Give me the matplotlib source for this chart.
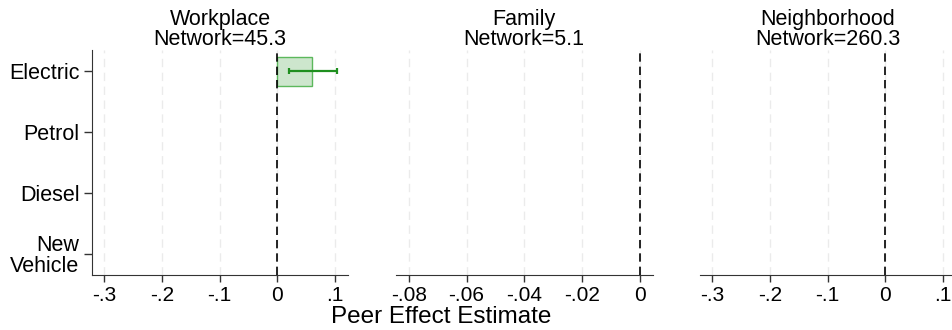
import numpy as np
import matplotlib
matplotlib.use("Agg")
import matplotlib.pyplot as plt

plt.rcParams['font.family'] = ['Liberation Sans', 'DejaVu Sans']

# categorias (de cima para baixo)
categories = ['Electric', 'Petrol', 'Diesel', 'New\nVehicle']

# estimativas por rede
panel_titles = ['Workplace\nNetwork=45.3', 'Family\nNetwork=5.1', 'Neighborhood\nNetwork=260.3']
work_est = [0.06, 0.0, 0.0, 0.0]
work_lo = [0.02, np.nan, np.nan, np.nan]
work_hi = [0.103, np.nan, np.nan, np.nan]
family_est = [0.0, 0.0, 0.0, 0.0]
neigh_est = [0.0, 0.0, 0.0, 0.0]

# ticks do eixo x
ticks_wide = [-0.3, -0.2, -0.1, 0.0, 0.1]
ticklabels_wide = ['-.3', '-.2', '-.1', '0', '.1']
ticks_family = [-0.08, -0.06, -0.04, -0.02, 0.0]
ticklabels_family = ['-.08', '-.06', '-.04', '-.02', '0']

fig = plt.figure(figsize=(9.53, 3.30), dpi=100)
positions = [
    [92/953, 55/330, 256/953, 225/330],
    [395.7/953, 55/330, 257/953, 225/330],
    [700/953, 55/330, 256/953, 225/330],
]
xlims = [(-0.3208, 0.1225), (-0.0845, 0.0044), (-0.321, 0.1225)]
ests = [work_est, family_est, neigh_est]
tick_sets = [(ticks_wide, ticklabels_wide), (ticks_family, ticklabels_family),
             (ticks_wide, ticklabels_wide)]

y = np.arange(len(categories))

for i, pos in enumerate(positions):
    ax = fig.add_axes(pos)
    ticks, labels = tick_sets[i]
    for t in ticks:
        ax.axvline(t, color='#ebebeb', lw=1.0, ls=(0, (6, 4)), zorder=0)
    ax.axvline(0, color='black', lw=1.2, ls=(0, (5, 3)), zorder=3)

    # só desenha barras com valor diferente de zero
    est = np.array(ests[i])
    nz = est != 0
    if nz.any():
        ax.barh(y[nz], est[nz], height=0.48, color='#cde6cd', edgecolor='#5cb85c',
                lw=1.0, zorder=2)
    if i == 0:
        lo = np.array(work_lo)
        hi = np.array(work_hi)
        ok = ~np.isnan(lo)
        ax.errorbar(est[ok], y[ok], xerr=[est[ok] - lo[ok], hi[ok] - est[ok]], fmt='none',
                    ecolor='#1f8f1f', elinewidth=1.6, capsize=2.5,
                    capthick=1.6, zorder=4)

    ax.set_xlim(*xlims[i])
    ax.set_ylim(3.35, -0.35)
    ax.set_xticks(ticks)
    ax.set_xticklabels(labels, fontsize=15)
    ax.tick_params(axis='x', length=5, width=1, color='#333333', pad=3)

    for s in ['top', 'right']:
        ax.spines[s].set_visible(False)
    ax.spines['bottom'].set_color('#333333')
    if i == 0:
        ax.spines['left'].set_color('#333333')
        ax.set_yticks(y)
        ax.set_yticklabels(categories, fontsize=15.5, linespacing=1.0)
        ax.tick_params(axis='y', length=6, width=1, color='#333333', pad=3)
    else:
        ax.spines['left'].set_visible(False)
        ax.set_yticks([])

    ax.set_title(panel_titles[i], fontsize=15.5, linespacing=0.95, pad=2)

fig.text(441/953, 0.005, 'Peer Effect Estimate', ha='center', va='bottom', fontsize=17.5)

fig.savefig('out.png', dpi=100)
